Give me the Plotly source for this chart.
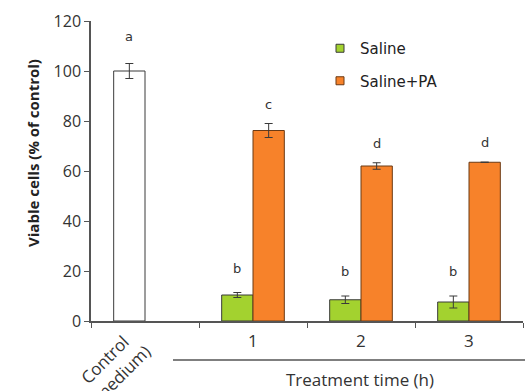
import plotly.graph_objects as go

# ---- data ----
control_x = [0]
control_val = [100]
control_err = [3]
control_letter = ["a"]

times = [1, 2, 3]
time_labels = ["1", "2", "3"]
saline_val = [10.4, 8.5, 7.6]
saline_err = [1.0, 1.5, 2.4]
saline_letters = ["b", "b", "b"]
pa_val = [76.2, 62.0, 63.5]
pa_err = [2.8, 1.3, 0]
pa_letters = ["c", "d", "d"]

W = 0.29
ink = "#3a3a3a"
green = "#a3d22f"
orange = "#f7822a"
L, T, PW, PH = 91, 21, 432, 300  # plot area in px

def px(xp):
    return (xp - L) / PW

def py(yp):
    return (T + PH - yp) / PH

fig = go.Figure()
fig.add_trace(go.Bar(x=control_x, y=control_val, width=W, offset=-W, showlegend=False,
                     marker=dict(color="white", line=dict(color=ink, width=1)),
                     error_y=dict(type="data", array=control_err, color=ink, thickness=1, width=4)))
fig.add_trace(go.Bar(x=times, y=saline_val, width=W, offset=-W, name="Saline", showlegend=False,
                     marker=dict(color=green, line=dict(color=ink, width=1)),
                     error_y=dict(type="data", array=saline_err, color=ink, thickness=1, width=4)))
fig.add_trace(go.Bar(x=times, y=pa_val, width=W, offset=0, name="Saline+PA", showlegend=False,
                     marker=dict(color=orange, line=dict(color="#6b3a14", width=1)),
                     error_y=dict(type="data", array=pa_err, color=ink, thickness=1, width=4)))
# legend entries (small square swatches)
fig.add_trace(go.Scatter(x=[None], y=[None], mode="markers", name="Saline", legendgroup="s",
                         marker=dict(symbol="square", size=8, color=green, line=dict(color=ink, width=1))))
fig.add_trace(go.Scatter(x=[None], y=[None], mode="markers", name="Saline+PA", legendgroup="p",
                         marker=dict(symbol="square", size=8, color=orange, line=dict(color="#6b3a14", width=1))))

annots = []
def letter(x, y, t):
    annots.append(dict(x=x, y=y, text=t, showarrow=False, xref="x", yref="y",
                       font=dict(family="DejaVu Sans", size=13, color="#333"), yanchor="bottom"))
for x, v, e, t in zip(control_x, control_val, control_err, control_letter):
    letter(x - W / 2, v + e + 7, t)
for x, v, e, t in zip(times, saline_val, saline_err, saline_letters):
    letter(x - W / 2, v + e + 6, t)
for x, v, e, t in zip(times, pa_val, pa_err, pa_letters):
    letter(x + W / 2, v + e + 4, t)

for x, t in zip(times, time_labels):
    annots.append(dict(x=x, y=py(340), xref="x", yref="paper", text=t, showarrow=False,
                       yanchor="middle", font=dict(family="Open Sans", size=17, color="#333")))
annots.append(dict(x=px(112), y=py(367), xref="paper", yref="paper", text="Control<br>(medium)",
                   showarrow=False, textangle=-45, xanchor="center", yanchor="middle",
                   font=dict(family="Open Sans", size=17, color="#333")))
annots.append(dict(x=px(360), y=py(379), xref="paper", yref="paper", text="Treatment time (h)",
                   showarrow=False, xanchor="center", yanchor="middle",
                   font=dict(family="Open Sans", size=17, color="#333")))
annots.append(dict(x=px(33), y=py(153), xref="paper", yref="paper",
                   text="<b>Viable cells (% of control)</b>", showarrow=False, textangle=-90,
                   xanchor="center", yanchor="middle",
                   font=dict(family="Open Sans", size=15, color="#222")))

fig.update_layout(
    width=525, height=391,
    margin=dict(l=L, r=525 - L - PW, t=T, b=391 - T - PH),
    plot_bgcolor="white", paper_bgcolor="white",
    barmode="overlay",
    annotations=annots,
    shapes=[dict(type="line", xref="paper", yref="paper", x0=px(173), x1=px(525),
                 y0=py(360), y1=py(360), line=dict(color="#555", width=1.5))],
    legend=dict(x=px(320), y=py(32), xanchor="left", yanchor="top", bgcolor="rgba(0,0,0,0)",
                font=dict(family="DejaVu Sans", size=15, color="#222"),
                itemwidth=30, tracegroupgap=10),
    font=dict(family="Open Sans", color="#333"),
)
fig.update_xaxes(range=[-0.5, 3.5], tickvals=[-0.5, 0.5, 1.5, 2.5, 3.5], showticklabels=False,
                 ticks="outside", ticklen=5, tickcolor="#555", showline=True, linecolor="#555",
                 linewidth=1.5, showgrid=False, zeroline=False, automargin=False)
fig.update_yaxes(range=[0, 120], tickvals=[0, 20, 40, 60, 80, 100, 120], ticks="outside",
                 ticklen=5, tickcolor="#555", showline=True, linecolor="#555", linewidth=1.5,
                 showgrid=False, zeroline=False, automargin=False,
                 tickfont=dict(family="Open Sans", size=16, color="#333"))
fig.write_html("out.html", config={"displayModeBar": False},
               post_script="document.body.style.margin='0';")
